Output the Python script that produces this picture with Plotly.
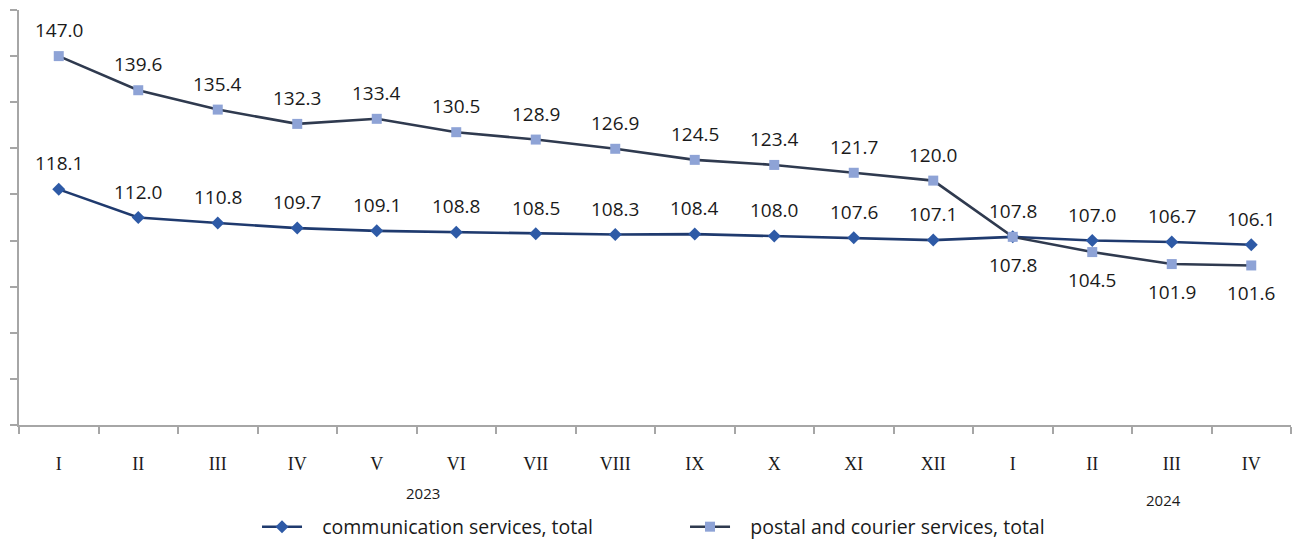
import plotly.graph_objects as go

months = ["I", "II", "III", "IV", "V", "VI", "VII", "VIII", "IX", "X", "XI", "XII",
          "I", "II", "III", "IV"]
comm = [118.1, 112.0, 110.8, 109.7, 109.1, 108.8, 108.5, 108.3, 108.4, 108.0, 107.6, 107.1,
        107.8, 107.0, 106.7, 106.1]
postal = [147.0, 139.6, 135.4, 132.3, 133.4, 130.5, 128.9, 126.9, 124.5, 123.4, 121.7, 120.0,
          107.8, 104.5, 101.9, 101.6]
postal_below = [False] * 12 + [True] * 4
years = ["2023", "2024"]
year_x = [4.58, 13.89]
series_names = ["communication services, total", "postal and courier services, total"]

xs = list(range(len(months)))
label_font = dict(family="Open Sans", size=19, color="#1a1a1a")

H = 539
top, bottom = 10, 114
plot_h = H - top - bottom


def paper_y(pix):
    return (H - bottom - pix) / plot_h


pad = "\u00a0\u00a0\u00a0"

fig = go.Figure()
fig.add_trace(go.Scatter(
    x=xs, y=comm, mode="lines+markers", name=pad + series_names[0],
    line=dict(color="#1F3A6E", width=2.6),
    marker=dict(symbol="diamond", size=10, color="#2E5AA6"),
))
fig.add_trace(go.Scatter(
    x=xs, y=postal, mode="lines+markers", name=pad + series_names[1],
    line=dict(color="#2F3A4F", width=2.6),
    marker=dict(symbol="square", size=10, color="#8EA3D6"),
))

annotations = []
for x, v in zip(xs, comm):
    annotations.append(dict(x=x, y=v, xref="x", yref="y", text=f"{v:.1f}",
                            showarrow=False, yshift=26, font=label_font))
for x, v, below in zip(xs, postal, postal_below):
    annotations.append(dict(x=x, y=v, xref="x", yref="y", text=f"{v:.1f}",
                            showarrow=False, yshift=-28 if below else 26, font=label_font))
for yr, xx, pix in zip(years, year_x, [493, 500]):
    annotations.append(dict(x=xx, y=paper_y(pix), xref="x", yref="paper", yanchor="middle",
                            text=yr, showarrow=False,
                            font=dict(family="Open Sans", size=15, color="#1a1a1a")))

fig.update_layout(
    width=1292, height=539,
    margin=dict(l=19, r=1, t=top, b=bottom),
    paper_bgcolor="white", plot_bgcolor="white",
    showlegend=True,
    legend=dict(orientation="h", x=0.5236, xanchor="center", yref="container",
                y=1 - 527 / 539, yanchor="middle",
                font=dict(family="Open Sans", size=19.5, color="#1a1a1a"),
                entrywidth=373, itemwidth=40),
    annotations=annotations,
    xaxis=dict(
        range=[-0.5, 15.5], tickvals=xs, ticktext=months, ticks="",
        showline=True, linecolor="#A6A6A6", linewidth=1.5,
        showgrid=False, zeroline=False,
        tickfont=dict(family="Liberation Serif", size=18, color="#1a1a1a"),
        ticklabelstandoff=22,
        minor=dict(tickmode="linear", tick0=-0.5, dtick=1, ticks="outside",
                   ticklen=7, tickcolor="#A6A6A6", tickwidth=1.5, showgrid=False),
    ),
    yaxis=dict(
        range=[67, 157], tickmode="linear", tick0=67, dtick=10, ticks="outside",
        ticklen=7, tickcolor="#A6A6A6", tickwidth=1.5, showticklabels=False,
        showline=True, linecolor="#A6A6A6", linewidth=1.5,
        showgrid=False, zeroline=False,
    ),
)

fig.write_html("out.html", config={"displayModeBar": False},
               post_script="document.body.style.margin='0';document.body.style.overflow='hidden';")
